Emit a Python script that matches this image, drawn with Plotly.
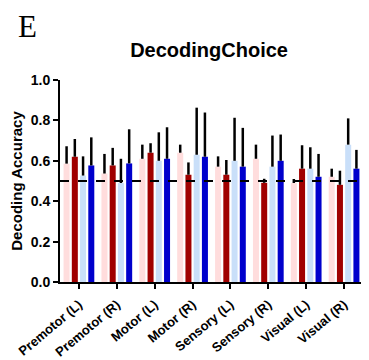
import plotly.graph_objects as go

categories = ["Premotor (L)", "Premotor (R)", "Motor (L)", "Motor (R)",
              "Sensory (L)", "Sensory (R)", "Visual (L)", "Visual (R)"]
series_names = ["S1", "S2", "S3", "S4"]
s1_vals = [0.586, 0.537, 0.610, 0.640, 0.571, 0.610, 0.490, 0.521]
s1_err = [0.672, 0.634, 0.680, 0.680, 0.622, 0.680, 0.510, 0.561]
s2_vals = [0.620, 0.577, 0.640, 0.531, 0.531, 0.491, 0.561, 0.481]
s2_err = [0.708, 0.664, 0.687, 0.592, 0.604, 0.511, 0.677, 0.551]
s3_vals = [0.527, 0.490, 0.600, 0.630, 0.600, 0.571, 0.561, 0.680]
s3_err = [0.622, 0.610, 0.741, 0.863, 0.813, 0.725, 0.667, 0.810]
s4_vals = [0.577, 0.587, 0.610, 0.620, 0.571, 0.600, 0.521, 0.561]
s4_err = [0.716, 0.756, 0.766, 0.839, 0.763, 0.730, 0.634, 0.654]
colors = ["#FFDDDD", "#A00000", "#C9DFF9", "#0000CC"]
chance = 0.5
y_ticks = [0.0, 0.2, 0.4, 0.6, 0.8, 1.0]

FONT = "Liberation Sans, Arial, sans-serif"

fig = go.Figure()
for name, vals, errs, col in zip(series_names,
                                 [s1_vals, s2_vals, s3_vals, s4_vals],
                                 [s1_err, s2_err, s3_err, s4_err], colors):
    fig.add_trace(go.Bar(
        x=categories, y=vals, name=name, marker=dict(color=col, line=dict(width=0)),
        error_y=dict(type="data", symmetric=False,
                     array=[e - v for e, v in zip(errs, vals)],
                     arrayminus=[0] * len(vals),
                     color="black", thickness=2.5, width=0),
    ))

fig.add_shape(type="line", xref="paper", yref="y", x0=0, x1=1, y0=chance, y1=chance,
              line=dict(color="black", width=2, dash="dash"))

fig.add_annotation(text="E", xref="paper", yref="paper", x=-0.108, y=1.265,
                   xanchor="center", yanchor="middle", showarrow=False,
                   font=dict(family="Liberation Serif, Times New Roman, serif", size=31, color="black"))

fig.update_layout(
    width=361, height=352,
    margin=dict(l=52, r=6, t=72, b=78),
    paper_bgcolor="white", plot_bgcolor="white",
    showlegend=False,
    barmode="group", bargap=0.13, bargroupgap=0.27,
    title=dict(text="DecodingChoice", x=0.557, xanchor="center", y=1 - 42 / 352, yanchor="middle",
               font=dict(family=FONT, size=20, color="black", weight="bold")),
    font=dict(family=FONT, color="black"),
)
fig.update_xaxes(
    range=[-0.5, 7.5], showline=True, linecolor="black", linewidth=2,
    ticks="outside", ticklen=5, tickwidth=2, tickcolor="black",
    tickangle=-40, ticklabelstandoff=3,
    tickfont=dict(family=FONT, size=13, color="black", weight="bold"),
    showgrid=False, zeroline=False, automargin=False,
)
fig.update_yaxes(
    range=[0, 1], tickvals=y_ticks, ticktext=[f"{t:.1f}" for t in y_ticks],
    showline=True, linecolor="black", linewidth=2,
    ticks="outside", ticklen=5, tickwidth=2, tickcolor="black",
    tickfont=dict(family=FONT, size=14, color="black", weight="bold"),
    title=dict(text="Decoding Accuracy", standoff=8,
               font=dict(family=FONT, size=15, color="black", weight="bold")),
    showgrid=False, zeroline=False, automargin=False,
)

fig.write_html("out.html")
